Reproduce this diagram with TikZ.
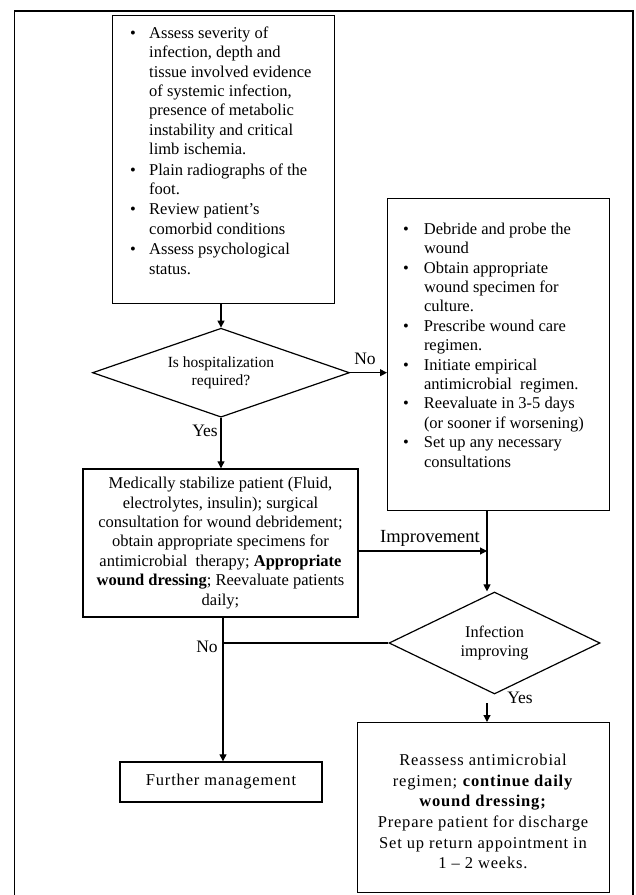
\documentclass[tikz,border=0pt]{standalone}
\usepackage{fontspec}
\setmainfont{Liberation Serif}
\usetikzlibrary{shapes.geometric,arrows.meta}
\tikzset{
  boxnode/.style={draw, rectangle, line width=1.4pt, inner sep=0pt},
  dnode/.style={draw, diamond, line width=1.2pt, inner sep=0pt, align=center},
  conn/.style={line width=1.1pt},
  arr/.style={conn, -{Triangle[length=7pt,width=7pt]}},
  body/.style={font=\fontsize{16.5pt}{19.4pt}\selectfont, inner sep=0pt},
  lbl/.style={font=\fontsize{17.5pt}{20pt}\selectfont, inner sep=0pt},
}
\newcommand{\bl}{\textbullet}
\begin{document}
\begin{tikzpicture}[x=1pt,y=-1pt]
\useasboundingbox (0,0) rectangle (636,895);
% outer frame
\draw[line width=1.4pt] (14.5,900) -- (14.5,11) -- (633,11) -- (633,900);

% box 1
\node[boxnode, minimum width=222pt, minimum height=288pt, anchor=north west] (b1) at (112,15) {};
\node[body, anchor=base west] (t1) at (130,38.3) {\begin{tabular}[t]{@{}p{19pt}@{}l@{}}
\bl & Assess severity of\\
    & infection, depth and\\
    & tissue involved evidence\\
    & of systemic infection,\\
    & presence of metabolic\\
    & instability and critical\\
    & limb ischemia.\\[1pt]
\bl & Plain radiographs of the\\
    & foot.\\[1pt]
\bl & Review patient’s\\
    & comorbid conditions\\[1pt]
\bl & Assess psychological\\
    & status.
\end{tabular}};

% box 2
\node[boxnode, minimum width=222pt, minimum height=312pt, anchor=north west] (b2) at (387,198) {};
\node[body, anchor=base west] (t2) at (402.8,234.3) {\begin{tabular}[t]{@{}p{21pt}@{}l@{}}
\bl & Debride and probe the\\
    & wound\\
\bl & Obtain appropriate\\
    & wound specimen for\\
    & culture.\\
\bl & Prescribe wound care\\
    & regimen.\\
\bl & Initiate empirical\\
    & antimicrobial\ \ regimen.\\
\bl & Reevaluate in 3-5 days\\
    & (or sooner if worsening)\\
\bl & Set up any necessary\\
    & consultations
\end{tabular}};

% decision 1
\node[dnode, aspect=2.9, minimum width=257pt, minimum height=89pt,
      font=\fontsize{15.5pt}{18pt}\selectfont] (d1) at (221,372.7) {Is hospitalization\\required?};

% box 3
\node[boxnode, body, align=center, minimum width=275pt, minimum height=148pt] (b3) at (220.5,543)
 {Medically stabilize patient (Fluid,\\
  electrolytes, insulin); surgical\\
  consultation for wound debridement;\\
  obtain appropriate specimens for\\
  antimicrobial\ \ therapy; \textbf{Appropriate}\\
  \textbf{wound dressing}; Reevaluate patients\\
  daily;};

% decision 2
\node[dnode, aspect=2.07, minimum width=211pt, minimum height=102pt,
      font=\fontsize{16.3pt}{19pt}\selectfont] (d2) at (494.5,643) {Infection\\improving};

% box 4
\node[boxnode, minimum width=252pt, minimum height=170pt, anchor=north west] (b4) at (357,722) {};
\node[inner sep=0pt, align=center, font=\fontsize{16.5pt}{20.6pt}\selectfont\addfontfeature{LetterSpace=5}] (t4) at (483,811.5)
 {Reassess antimicrobial\\
  regimen; \textbf{continue daily}\\
  \textbf{wound dressing;}\\
  Prepare patient for discharge\\
  Set up return appointment in\\
  1 – 2 weeks.};

% box 5
\node[boxnode, minimum width=202pt, minimum height=40pt,
      font=\fontsize{16.5pt}{19.4pt}\selectfont\addfontfeature{LetterSpace=5}] (b5) at (221,782) {Further management};

% junction points
\coordinate (j) at (487,551);
\coordinate (k) at (223,643);
\coordinate (y2) at (487,703);

% connectors
\draw[arr] (d1.north |- b1.south) -- (d1.north);
\draw[arr] (d1.east) -- (d1.east -| b2.west);
\node[lbl] (l1) at (365,359) {No};
\draw[arr] (d1.south) -- (d1.south |- b3.north);
\node[lbl] (l2) at (205,431) {Yes};
\draw[arr] (j |- b2.south) -- (j |- d2.north);
\draw[arr] (j -| b3.east) -- (j);
\node[lbl, font=\fontsize{18.5pt}{20pt}\selectfont] (l3) at (430,538) {Improvement};
\draw[conn] (d2.west) -- (k);
\draw[arr] (k |- b3.south) -- (k |- b5.north);
\node[lbl] (l4) at (207,647) {No};
\draw[arr] (y2) -- (y2 |- b4.north);
\node[lbl] (l5) at (520,698) {Yes};
\end{tikzpicture}
\end{document}
